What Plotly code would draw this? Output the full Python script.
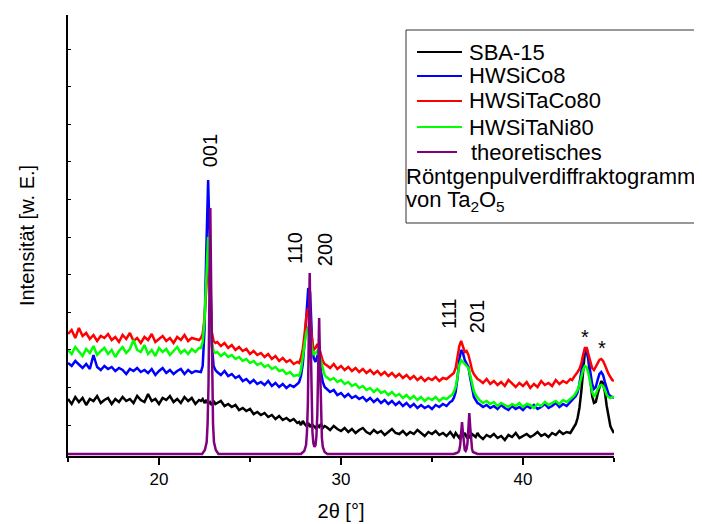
import plotly.graph_objects as go

# ---------------- data ----------------
def seg(start, n, step):
    return [round(start + i * step, 2) for i in range(n)]

# 2theta sampling grid (finer around reflections)
theta = (seg(15.0, 37, 0.2) + seg(22.3, 9, 0.1) + seg(23.2, 23, 0.2) + seg(27.7, 15, 0.1)
         + seg(29.2, 35, 0.2) + seg(36.1, 15, 0.1) + seg(37.6, 26, 0.2) + seg(42.7, 24, 0.1))

sba15 = [
    55, 50, 57, 52, 56, 49, 55, 53, 58, 51, 54, 56, 50, 55, 52, 57, 53, 55, 51, 58,
    54, 52, 60, 53, 55, 50, 56, 54, 58, 52, 55, 51, 57, 53, 56, 50, 54,
    53, 55, 51, 54, 50, 52, 49, 53, 50,
    51, 53, 48, 50, 47, 49, 44, 46, 43, 45, 40, 42, 39, 41, 37, 39, 35, 38, 34, 36, 33, 35, 31,
    32, 29, 33, 30, 28, 31, 27, 30, 28, 26, 29, 27, 30, 26, 28,
    27, 24, 28, 25, 23, 26, 22, 25, 21, 24, 26, 22, 20, 24, 21, 23, 19, 22, 25, 21,
    20, 23, 19, 22, 20, 24, 21, 18, 22, 20, 23, 19, 21, 18, 22,
    20, 17, 21, 19, 16, 20, 18, 21, 17, 19, 16, 20, 18, 17, 21,
    18, 15, 19, 17, 20, 16, 18, 14, 19, 17, 21, 16, 18, 20, 17, 19, 22, 18, 20, 17, 21, 19, 23, 20, 22, 21,
    24, 27, 30, 36, 46, 62, 84, 102, 106, 94, 74, 58, 51, 52, 60, 68, 73, 71, 62, 48, 36, 28, 24, 21,
]

hwsico8 = [
    91, 88, 93, 89, 86, 90, 85, 99, 87, 84, 88, 85, 87, 83, 86, 84, 80, 85, 83, 86,
    82, 84, 81, 85, 79, 83, 86, 81, 84, 80, 83, 85, 80, 84, 81, 83, 82,
    82, 88, 124, 204, 274, 204, 110, 88, 84,
    82, 79, 83, 78, 80, 76, 78, 73, 75, 71, 74, 70, 72, 69, 73, 68, 71, 67, 70, 66, 69, 67, 70,
    72, 78, 90, 112, 140, 166, 162, 118, 96, 92, 98, 97, 82, 72, 67,
    65, 62, 64, 59, 61, 57, 60, 56, 58, 55, 57, 53, 56, 52, 55, 51, 54, 50, 53, 49,
    52, 48, 51, 47, 50, 46, 49, 46, 48, 45, 49, 47, 50, 48, 52,
    53, 56, 62, 76, 94, 104, 101, 94, 91, 87, 76, 64, 57, 54, 51,
    50, 47, 49, 46, 48, 45, 49, 46, 44, 48, 45, 47, 44, 48, 46, 49, 45, 47, 50, 46, 48, 51, 47, 50, 48, 52,
    53, 55, 58, 62, 70, 82, 96, 104, 103, 94, 80, 70, 65, 67, 74, 80, 82, 79, 72, 65, 60, 58, 57, 56,
]

hwsitaco80 = [
    120, 124, 116, 126, 118, 121, 115, 119, 113, 118, 116, 120, 114, 117, 112, 119, 115, 121, 113, 116,
    111, 117, 114, 120, 112, 115, 118, 113, 116, 111, 117, 114, 119, 113, 116, 115, 114,
    116, 120, 135, 172, 197, 160, 122, 113, 111,
    112, 108, 111, 106, 109, 104, 107, 103, 105, 100, 103, 99, 101, 97, 100, 95, 98, 93, 96, 92, 94, 90, 92,
    91, 96, 105, 120, 138, 146, 138, 115, 104, 106, 110, 106, 99, 93, 90,
    89, 86, 90, 85, 88, 84, 87, 83, 86, 82, 85, 81, 84, 80, 83, 79, 82, 78, 81, 77,
    80, 76, 79, 75, 78, 74, 77, 73, 76, 74, 77, 73, 76, 75, 78,
    79, 81, 86, 96, 108, 113, 108, 102, 103, 99, 92, 84, 80, 77, 75,
    74, 71, 75, 70, 73, 69, 72, 68, 74, 70, 67, 71, 68, 72, 66, 70, 67, 73, 69, 71, 68, 74, 70, 73, 71, 75,
    74, 77, 79, 82, 85, 90, 99, 106, 106, 99, 91, 86, 84, 87, 91, 94, 95, 93, 89, 84, 80, 77, 74, 73,
]

hwsitani80 = [
    104, 100, 107, 102, 98, 105, 101, 108, 99, 103, 106, 100, 104, 97, 103, 107, 101, 105, 114, 104,
    102, 109, 100, 104, 98, 106, 102, 105, 99, 103, 107, 101, 104, 100, 105, 102, 106,
    106, 112, 134, 186, 217, 175, 112, 103, 101,
    102, 98, 101, 97, 99, 95, 97, 93, 95, 91, 93, 89, 91, 87, 89, 85, 87, 83, 84, 80, 82, 78, 79,
    78, 84, 95, 110, 122, 127, 120, 106, 99, 101, 103, 100, 92, 84, 79,
    77, 74, 76, 72, 74, 70, 72, 68, 70, 66, 68, 64, 66, 62, 65, 61, 63, 59, 62, 58,
    60, 56, 59, 55, 58, 54, 57, 53, 56, 54, 57, 53, 56, 55, 58,
    59, 62, 67, 77, 89, 94, 92, 90, 89, 86, 79, 70, 63, 59, 56,
    54, 51, 53, 50, 52, 48, 51, 49, 47, 50, 48, 51, 47, 50, 49, 46, 50, 48, 52, 49, 51, 53, 50, 54, 52, 55,
    56, 58, 61, 64, 69, 76, 84, 88, 87, 80, 70, 62, 58, 60, 65, 68, 69, 68, 64, 59, 57, 56, 57, 57,
]

# theoretical Ta2O5 pattern
theo_theta = [15.0, 22.37, 22.52, 22.62, 22.67, 22.72, 22.77, 22.82, 22.87, 22.92, 22.97, 23.02, 23.12, 23.27,
              27.8, 27.98, 28.08, 28.13, 28.18, 28.23, 28.28, 28.33, 28.38, 28.43, 28.48, 28.54, 28.6, 28.65,
              28.7, 28.75, 28.8, 28.85, 28.9, 28.95, 29.0, 29.1, 29.25,
              36.2, 36.35, 36.45, 36.5, 36.55, 36.6, 36.65, 36.7, 36.75, 36.8, 36.85, 36.9, 36.95, 37.0, 37.05,
              37.1, 37.15, 37.2, 37.25, 37.35, 37.5, 45.0]
theo_int = [0, 0, 4, 12, 30, 69, 160, 246, 160, 69, 30, 12, 4, 0,
            0, 3, 9, 22, 51, 118, 181, 118, 51, 22, 11, 7, 9, 18,
            40, 89, 136, 89, 38, 16, 7, 2, 0,
            0, 1, 2, 4, 9, 21, 32, 21, 9, 4, 3, 5, 11, 27, 41,
            27, 11, 5, 2, 1, 0, 0]

series_names = ["SBA-15", "HWSiCo8", "HWSiTaCo80", "HWSiTaNi80", "theoretisches"]
series_colors = ["#000000", "#0000FF", "#FF0000", "#00FF00", "#800080"]
series_values = [sba15, hwsico8, hwsitaco80, hwsitani80]

legend_extra = ["Röntgenpulverdiffraktogramm", "von Ta<sub>2</sub>O<sub>5</sub>"]

reflex_labels = ["001", "110", "200", "111", "201"]
reflex_pos = [22.82, 27.47, 29.13, 35.93, 37.49]
reflex_lvl = [303, 206, 204, 140, 137]
star_pos = [43.42, 44.35]
star_lvl = [117, 106]

for ys in series_values:
    assert len(ys) == len(theta), (len(ys), len(theta))
assert len(theo_theta) == len(theo_int)

# ---------------- figure ----------------
FONT = "Liberation Sans, Arial, sans-serif"
OFF = 8                      # page body margin of the exported html
W, H = 702 - OFF, 524 - OFF
L, R, T, B = 68 - OFF, 88, 15 - OFF, 68
PW, PH = W - L - R, H - T - B


def px_x(px):   # page pixel -> paper fraction
    return (px - OFF - L) / PW


def px_y(py):
    return (H - B - (py - OFF)) / PH


fig = go.Figure()
for name, ys, col in zip(series_names, series_values, series_colors):
    fig.add_trace(go.Scatter(x=theta, y=ys, mode="lines", name=name,
                             line=dict(color=col, width=2.5), showlegend=False))
fig.add_trace(go.Scatter(x=theo_theta, y=theo_int, mode="lines", name=series_names[4],
                         line=dict(color=series_colors[4], width=2.5), showlegend=False))

shapes = []
annotations = []

# legend box
shapes.append(dict(type="rect", xref="paper", yref="paper",
                   x0=px_x(406), x1=px_x(698), y0=px_y(223), y1=px_y(30),
                   line=dict(color="#333333", width=1), fillcolor="white", layer="above"))
rows = [52, 76, 101, 127, 152]
for i, (name, col) in enumerate(zip(series_names, series_colors)):
    x1 = 462 if i < 4 else 457
    shapes.append(dict(type="line", xref="paper", yref="paper",
                       x0=px_x(417), x1=px_x(x1), y0=px_y(rows[i]), y1=px_y(rows[i]),
                       line=dict(color=col, width=2), layer="above"))
    annotations.append(dict(xref="paper", yref="paper", x=px_x(467 if i < 4 else 469), y=px_y(rows[i]),
                            text=name, showarrow=False, xanchor="left", yanchor="middle",
                            font=dict(family=FONT, size=22, color="black")))
for txt, py in zip(legend_extra, [176, 201]):
    annotations.append(dict(xref="paper", yref="paper", x=px_x(404), y=px_y(py),
                            text=txt, showarrow=False, xanchor="left", yanchor="middle",
                            font=dict(family=FONT, size=22, color="black")))

# reflection labels
for lab, xv, yv in zip(reflex_labels, reflex_pos, reflex_lvl):
    annotations.append(dict(xref="x", yref="y", x=xv, y=yv, text=lab, showarrow=False,
                            textangle=-90, xanchor="center", yanchor="middle",
                            font=dict(family=FONT, size=20, color="black")))
for xv, yv in zip(star_pos, star_lvl):
    annotations.append(dict(xref="x", yref="y", x=xv, y=yv, text="*", showarrow=False,
                            xanchor="center", yanchor="middle",
                            font=dict(family=FONT, size=20, color="black")))

fig.update_layout(
    width=W, height=H,
    margin=dict(l=L, r=R, t=T, b=B, autoexpand=False),
    plot_bgcolor="white", paper_bgcolor="white",
    font=dict(family=FONT, size=17, color="black"),
    shapes=shapes, annotations=annotations,
    showlegend=False,
)
fig.update_xaxes(
    range=[15.0, 45.0], tickmode="array", tickvals=[20, 30, 40],
    ticks="outside", ticklen=7, tickwidth=2, tickcolor="black",
    showline=True, linecolor="black", linewidth=2, mirror=False,
    showgrid=False, zeroline=False, tickfont=dict(family=FONT, size=17, color="black"),
    minor=dict(tickmode="array", tickvals=[15, 25, 35, 45], ticks="outside", ticklen=4,
               tickwidth=2, tickcolor="black", showgrid=False),
    title=dict(text="2θ [°]", font=dict(family=FONT, size=20, color="black"), standoff=16),
    automargin=False,
)
fig.update_yaxes(
    range=[-2, 439], showticklabels=False, tickmode="linear", tick0=29, dtick=37.6,
    ticks="inside", ticklen=3, tickwidth=1, tickcolor="black",
    showline=True, linecolor="black", linewidth=2,
    showgrid=False, zeroline=False,
    title=dict(text="Intensität [w. E.]", font=dict(family=FONT, size=20, color="black"), standoff=26),
    automargin=False,
)

fig.write_html("out.html")
